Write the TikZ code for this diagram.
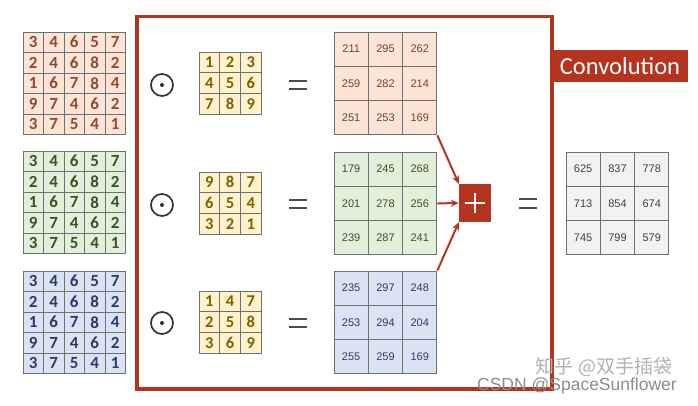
\documentclass[tikz,border=0pt]{standalone}
\usepackage{fontspec}
\usetikzlibrary{arrows.meta}
\newfontfamily\carlito{Carlito}
\newfontfamily\arialf{Liberation Sans}
\newfontfamily\cjkf{Noto Sans CJK SC}
\definecolor{myred}{HTML}{B5341F}
\definecolor{pinkfill}{HTML}{FCE4D6}
\definecolor{pinktext}{HTML}{8E4B2E}
\definecolor{greenfill}{HTML}{E2EFDA}
\definecolor{greentext}{HTML}{3B5323}
\definecolor{bluefill}{HTML}{DAE3F3}
\definecolor{bluetext}{HTML}{2E3A66}
\definecolor{yelfill}{HTML}{FFF2CC}
\definecolor{yeltext}{HTML}{7F6000}
\definecolor{outfill}{HTML}{F2F2F2}
\definecolor{gridline}{HTML}{707070}
\tikzset{
  cellbase/.style={draw=gridline, line width=0.9pt, inner sep=0pt, anchor=center},
  smallcell/.style={cellbase, minimum size=20.5pt, font=\carlito\bfseries\fontsize{17}{17}\selectfont},
  kcell/.style={cellbase, minimum size=20.7pt, fill=yelfill, text=yeltext, font=\carlito\bfseries\fontsize{16.5}{16.5}\selectfont},
  bigcell/.style={cellbase, minimum size=34.3pt, font=\arialf\fontsize{11}{11}\selectfont},
  odotsym/.style={draw=black!80, line width=1.7pt, circle, minimum size=22pt, inner sep=0pt},
  eqbar/.style={draw=black!70, line width=2.2pt},
  redarrow/.style={draw=myred, line width=2pt, -{Stealth[length=8pt,width=7pt]}},
}
\begin{document}
\begin{tikzpicture}[x=1pt,y=-1pt]
\useasboundingbox (0,0) rectangle (698,406);
\fill[white] (0,0) rectangle (698,406);
% left 5x5 matrices
\foreach [count=\r] \row in {{3,4,6,5,7},{2,4,6,8,2},{1,6,7,8,4},{9,7,4,6,2},{3,7,5,4,1}} {
  \foreach [count=\c] \v in \row {
    \node[smallcell, fill=pinkfill, text=pinktext] (P-\r-\c) at ({23+20.5*(\c-0.5)},{32+20.5*(\r-0.5)}) {\v};
    \node[smallcell, fill=greenfill, text=greentext] (G-\r-\c) at ({23+20.5*(\c-0.5)},{151+20.5*(\r-0.5)}) {\v};
    \node[smallcell, fill=bluefill, text=bluetext] (B-\r-\c) at ({23+20.5*(\c-0.5)},{271+20.5*(\r-0.5)}) {\v};
  }
}
% red frame
\draw[myred, line width=3.5pt] (137,16.5) rectangle (552,389);
% kernels
\foreach [count=\r] \row in {{1,2,3},{4,5,6},{7,8,9}} {
  \foreach [count=\c] \v in \row {
    \node[kcell] (K1-\r-\c) at ({199+20.7*(\c-0.5)},{52+20.7*(\r-0.5)}) {\v};
  }
}
\foreach [count=\r] \row in {{9,8,7},{6,5,4},{3,2,1}} {
  \foreach [count=\c] \v in \row {
    \node[kcell] (K2-\r-\c) at ({199+20.7*(\c-0.5)},{172+20.7*(\r-0.5)}) {\v};
  }
}
\foreach [count=\r] \row in {{1,4,7},{2,5,8},{3,6,9}} {
  \foreach [count=\c] \v in \row {
    \node[kcell] (K3-\r-\c) at ({199+20.7*(\c-0.5)},{291+20.7*(\r-0.5)}) {\v};
  }
}
% odot symbols
\foreach \i/\y in {1/85,2/205,3/323} {
  \node[odotsym] (O\i) at (162,\y) {};
  \fill[black!80] (O\i.center) circle (2pt);
}
% equals signs
\foreach \i/\y in {1/85,2/204,3/323} {
  \coordinate (E\i) at (298,\y);
  \draw[eqbar] ([xshift=-9pt,yshift=4pt]E\i) -- ([xshift=9pt,yshift=4pt]E\i);
  \draw[eqbar] ([xshift=-9pt,yshift=-4pt]E\i) -- ([xshift=9pt,yshift=-4pt]E\i);
}
% result matrices
\foreach [count=\r] \row in {{211,295,262},{259,282,214},{251,253,169}} {
  \foreach [count=\c] \v in \row {
    \node[bigcell, fill=pinkfill, text=pinktext!85!black] (R1-\r-\c) at ({334+34.3*(\c-0.5)},{32+34.3*(\r-0.5)}) {\v};
  }
}
\foreach [count=\r] \row in {{179,245,268},{201,278,256},{239,287,241}} {
  \foreach [count=\c] \v in \row {
    \node[bigcell, fill=greenfill, text=greentext] (R2-\r-\c) at ({334+34.3*(\c-0.5)},{152+34.3*(\r-0.5)}) {\v};
  }
}
\foreach [count=\r] \row in {{235,297,248},{253,294,204},{255,259,169}} {
  \foreach [count=\c] \v in \row {
    \node[bigcell, fill=bluefill, text=bluetext] (R3-\r-\c) at ({334+34.3*(\c-0.5)},{271+34.3*(\r-0.5)}) {\v};
  }
}
% plus box
\node[fill=myred, minimum width=32pt, minimum height=38pt, inner sep=0pt] (plus) at (475,203) {};
\draw[white, line width=2pt] ([xshift=-10pt]plus.center) -- ([xshift=10pt]plus.center);
\draw[white, line width=2pt] ([yshift=-10pt]plus.center) -- ([yshift=10pt]plus.center);
% arrows
\draw[redarrow] (R1-3-3.south east) -- (plus.north west);
\draw[redarrow] (R2-2-3.east) -- (plus.west);
\draw[redarrow] (R3-1-3.north east) -- (plus.south west);
% final equals
\coordinate (E4) at (528,203.5);
\draw[eqbar] ([xshift=-9pt,yshift=4.5pt]E4) -- ([xshift=9pt,yshift=4.5pt]E4);
\draw[eqbar] ([xshift=-9pt,yshift=-4.5pt]E4) -- ([xshift=9pt,yshift=-4.5pt]E4);
% output matrix
\foreach [count=\r] \row in {{625,837,778},{713,854,674},{745,799,579}} {
  \foreach [count=\c] \v in \row {
    \node[bigcell, fill=outfill, text=black!75] (S-\r-\c) at ({566+34.3*(\c-0.5)},{152+34.3*(\r-0.5)}) {\v};
  }
}
% convolution label
\node[fill=myred, text=white, minimum width=136pt, minimum height=32pt, inner sep=0pt, font=\carlito\fontsize{24.5}{24.5}\selectfont] (conv) at (620,66) {Convolution};
% watermarks
\node[text=black!30, font=\cjkf\fontsize{19}{19}\selectfont, inner sep=0pt] (wm1) at (604,367) {知乎 @双手插袋};
\node[text=black!45, font=\arialf\fontsize{17.5}{17.5}\selectfont, inner sep=0pt] (wm2) at (577,386) {CSDN @SpaceSunflower};
\end{tikzpicture}
\end{document}
